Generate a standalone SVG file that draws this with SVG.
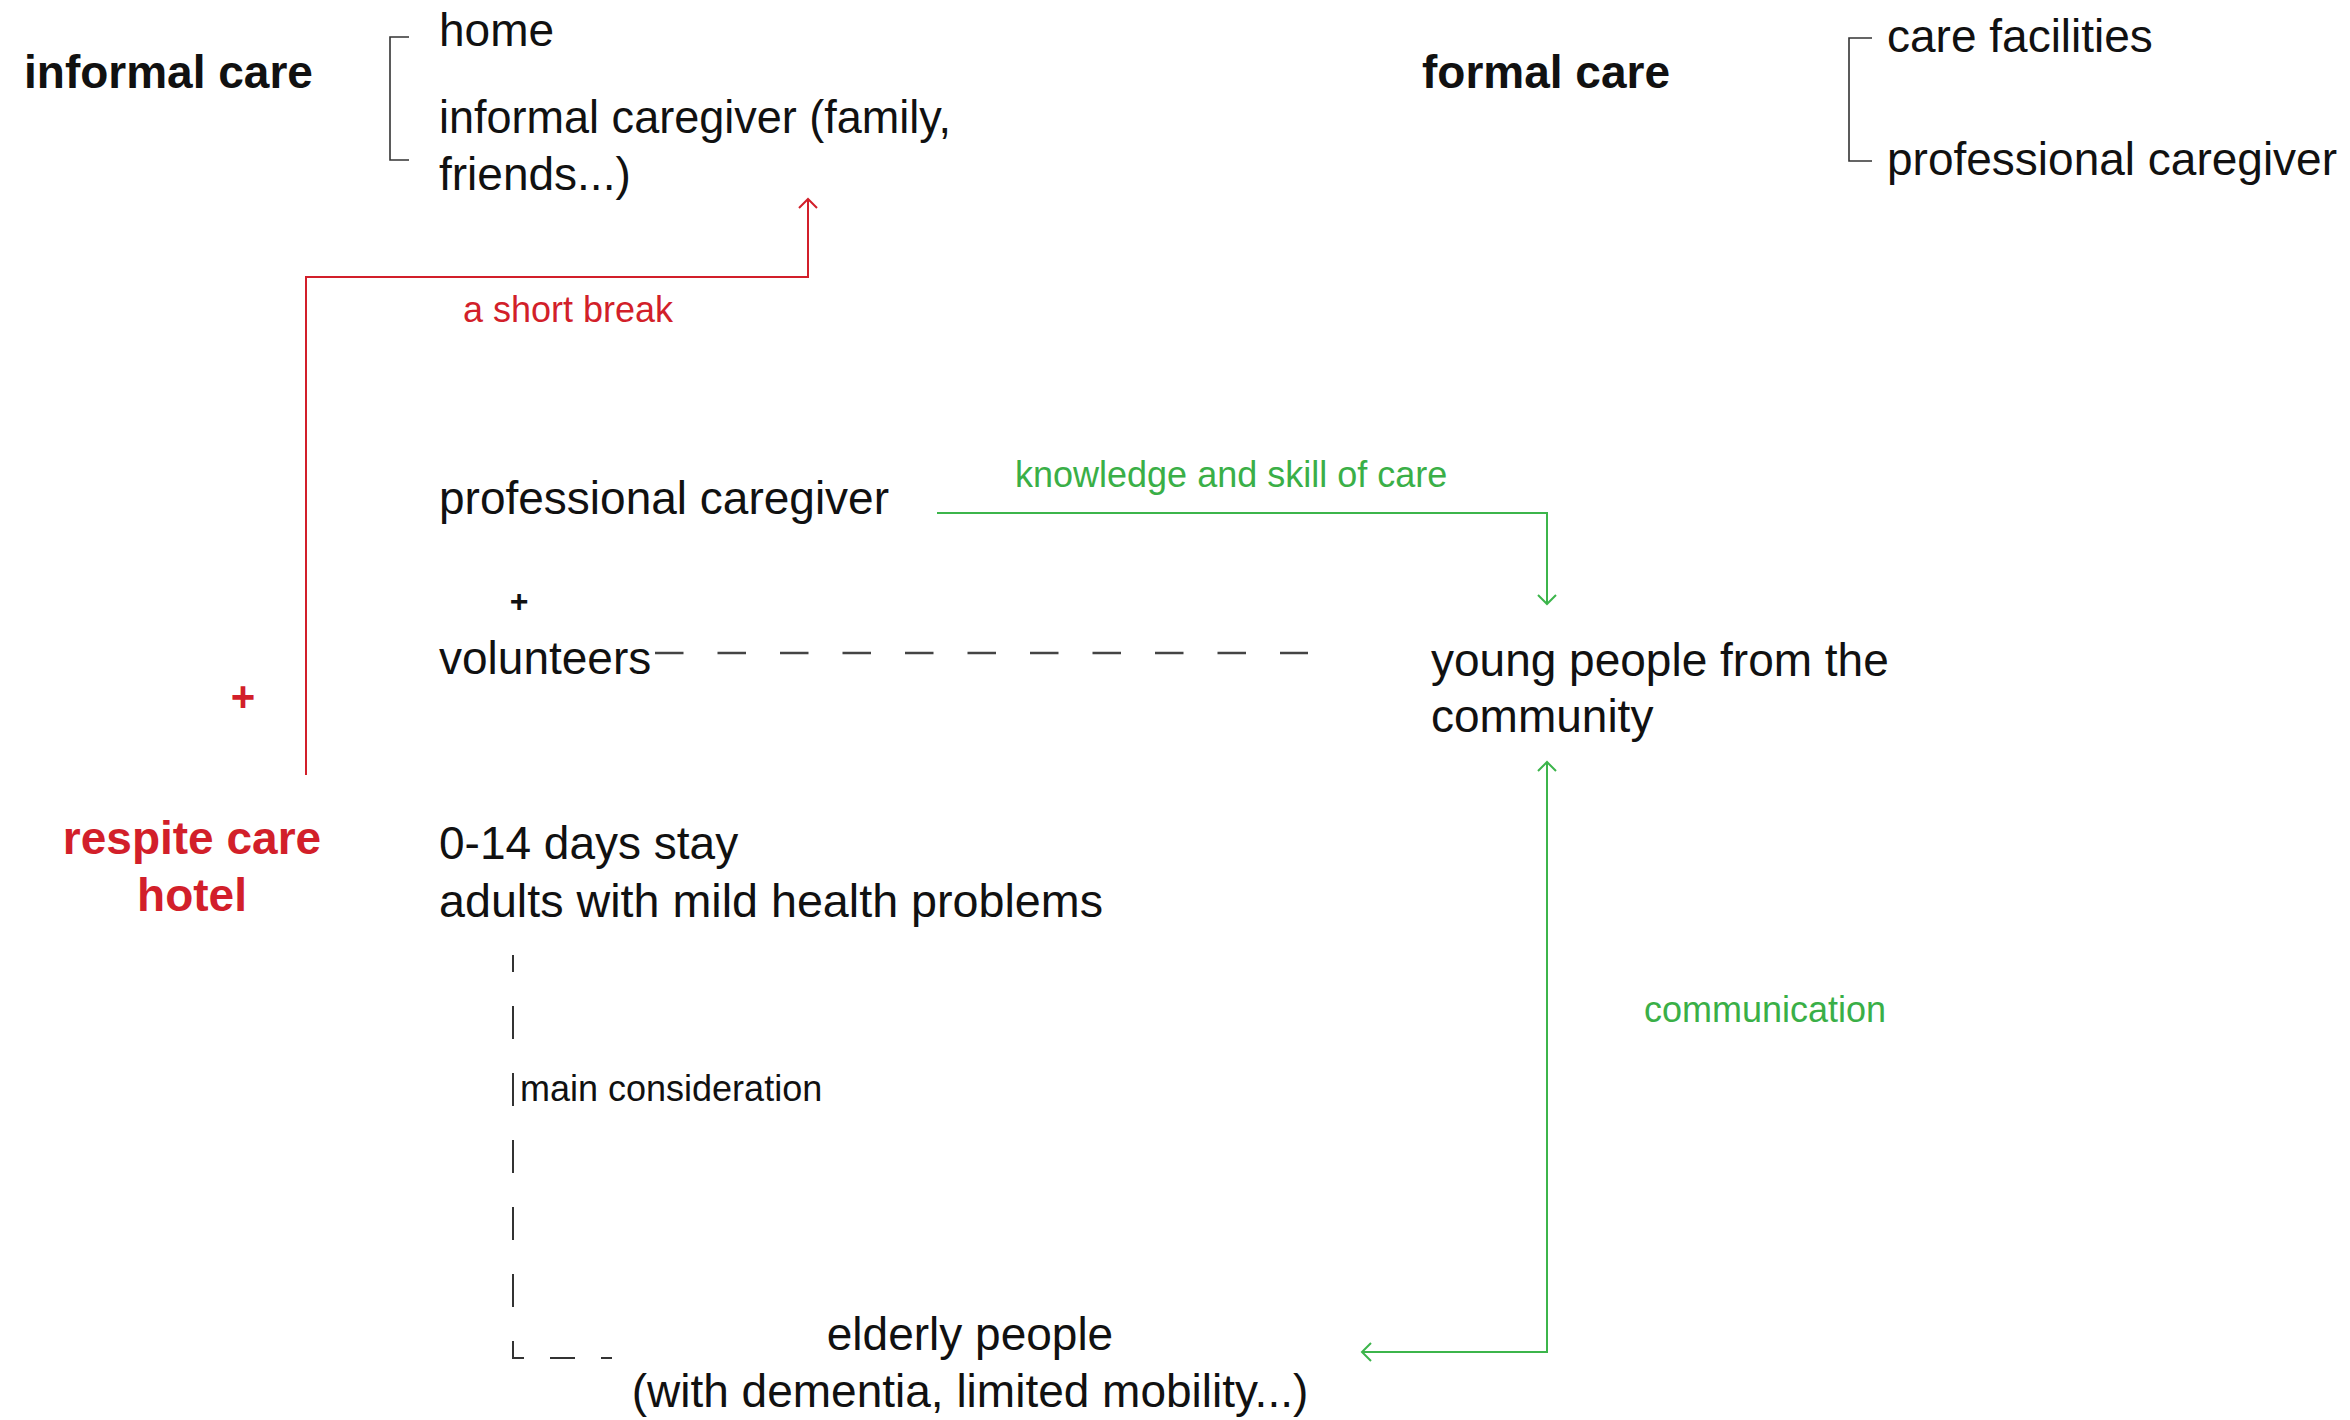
<svg xmlns="http://www.w3.org/2000/svg" width="2350" height="1420" viewBox="0 0 2350 1420">
<defs>
<style>
text{font-family:"Liberation Sans",Arial,sans-serif;}
.t{font-size:46px;fill:#111;}
.b{font-size:46px;font-weight:bold;fill:#111;}
.rb{font-size:46px;font-weight:bold;fill:#d21f2a;}
.s{font-size:36px;fill:#111;}
.rs{font-size:36px;fill:#d21f2a;}
.gs{font-size:36px;fill:#3aaf47;}
.br{fill:none;stroke:#333;stroke-width:1.6;}
.red{fill:none;stroke:#d21f2a;stroke-width:2;}
.grn{fill:none;stroke:#3cb54b;stroke-width:2;}
.dash{fill:none;stroke:#444;stroke-width:2.6;}
.dv{fill:none;stroke:#333;stroke-width:2;}
</style>
<marker id="ar" markerUnits="userSpaceOnUse" markerWidth="20" markerHeight="20" refX="0" refY="0" orient="auto" overflow="visible">
<path d="M-9,-9 L0,0 L-9,9" fill="none" stroke="#d21f2a" stroke-width="2"/>
</marker>
<marker id="ag" markerUnits="userSpaceOnUse" markerWidth="20" markerHeight="20" refX="0" refY="0" orient="auto-start-reverse" overflow="visible">
<path d="M-9,-9 L0,0 L-9,9" fill="none" stroke="#3cb54b" stroke-width="2"/>
</marker>
</defs>
<rect width="2350" height="1420" fill="#fff"/>

<g id="informal-care">
<text class="b" x="24" y="88">informal care</text>
<path class="br" d="M409,37 H390 V160 H409"/>
<text class="t" x="439" y="46">home</text>
<text class="t" x="439" y="133" textLength="512" lengthAdjust="spacingAndGlyphs">informal caregiver (family,</text>
<text class="t" x="439" y="190">friends...)</text>
</g>

<g id="formal-care">
<text class="b" x="1422" y="88">formal care</text>
<path class="br" d="M1872,38 H1849 V161 H1872"/>
<text class="t" x="1887" y="52">care facilities</text>
<text class="t" x="1887" y="175">professional caregiver</text>
</g>

<g id="professional-caregiver">
<text class="t" x="439" y="514">professional caregiver</text>
</g>

<g id="plus-black">
<text x="519" y="612" text-anchor="middle" style="font-size:32px;font-weight:bold;fill:#111">+</text>
</g>

<g id="volunteers">
<text class="t" x="439" y="674">volunteers</text>
</g>

<g id="plus-red">
<text x="243" y="711" text-anchor="middle" style="font-size:42px;font-weight:bold;fill:#d21f2a">+</text>
</g>

<g id="respite-care-hotel">
<text class="rb" x="192" y="854" text-anchor="middle">respite care</text>
<text class="rb" x="192" y="911" text-anchor="middle">hotel</text>
</g>

<g id="stay">
<text class="t" x="439" y="859">0-14 days stay</text>
<text class="t" x="439" y="917" textLength="664" lengthAdjust="spacingAndGlyphs">adults with mild health problems</text>
</g>

<g id="young-people">
<text class="t" x="1431" y="676">young people from the</text>
<text class="t" x="1431" y="732">community</text>
</g>

<g id="elderly-people">
<text class="t" x="970" y="1350" text-anchor="middle">elderly people</text>
<text class="t" x="970" y="1407" text-anchor="middle">(with dementia, limited mobility...)</text>
</g>

<g id="connectors">
<path class="red" d="M306,775 V277 H808 V199" marker-end="url(#ar)"/>
<text class="rs" x="463" y="322">a short break</text>

<path class="grn" d="M937,513 H1547 V604" marker-end="url(#ag)"/>
<text class="gs" x="1015" y="487">knowledge and skill of care</text>

<path class="dash" d="M655,653 H1308" stroke-dasharray="28.5 34"/>

<path class="dv" d="M513,955 V1358 H614" stroke-dasharray="17 34 33 34 33 34 33 34 33 34 33 34 28 26 25 26 11 20"/>
<text class="s" x="520" y="1101">main consideration</text>

<path class="grn" d="M1362,1352 H1547 V762" marker-start="url(#ag)" marker-end="url(#ag)"/>
<text class="gs" x="1644" y="1022">communication</text>
</g>
</svg>
